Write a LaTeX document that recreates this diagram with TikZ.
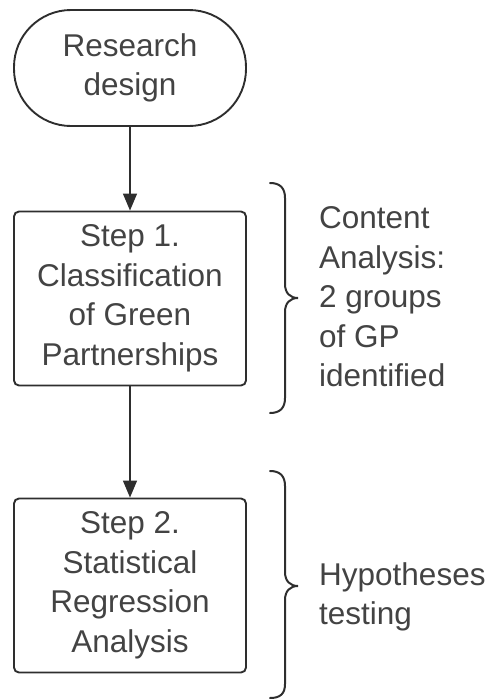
\documentclass[tikz,border=0pt]{standalone}
\usepackage{fontspec}
\setmainfont{Liberation Sans}
\usetikzlibrary{arrows.meta}
\definecolor{ink}{HTML}{2E2E2E}
\begin{document}
\begin{tikzpicture}[x=1pt,y=-1pt,
  txt/.style={font=\fontsize{31.5}{39.5}\selectfont, text=ink!90, align=center, inner sep=0pt},
  boxnode/.style={txt, draw=ink, line width=1.9pt, minimum width=232pt, minimum height=174pt, rounded corners=5pt},
  termnode/.style={txt, draw=ink, line width=1.9pt, minimum width=232pt, minimum height=116pt, rounded corners=57pt},
  sidetxt/.style={txt, align=left, anchor=west},
  conn/.style={draw=ink, line width=1.4pt, -{Triangle[width=14pt,length=17pt]}},
  bracepath/.style={draw=ink, line width=2pt, line cap=round}
]
\useasboundingbox (0,0) rectangle (492,699);
\node[termnode] (rd) at (130,68) {Research\\design};
\node[boxnode] (s1) at (130,298.5) {Step 1.\\Classification\\of Green\\Partnerships};
\node[boxnode] (s2) at (130,585.5) {Step 2.\\Statistical\\Regression\\Analysis};
\draw[conn] (rd.south) -- (s1.north);
\draw[conn] (s1.south) -- (s2.north);
% braces
\draw[bracepath] (270,183) .. controls (280,183) and (285,188) .. (285,198)
  -- (285,284) .. controls (285,293) and (290,298) .. (298,298)
  .. controls (290,298) and (285,303) .. (285,312)
  -- (285,398) .. controls (285,408) and (280,413) .. (270,413);
\draw[bracepath] (270,471) .. controls (280,471) and (285,476) .. (285,486)
  -- (285,572) .. controls (285,581) and (290,586) .. (298,586)
  .. controls (290,586) and (285,591) .. (285,600)
  -- (285,684) .. controls (285,694) and (280,698) .. (270,698);
\node[sidetxt] (t1) at (319,297) {Content\\Analysis:\\2 groups\\of GP\\identified};
\node[sidetxt] (t2) at (319,597) {Hypotheses\\testing};
\end{tikzpicture}
\end{document}
